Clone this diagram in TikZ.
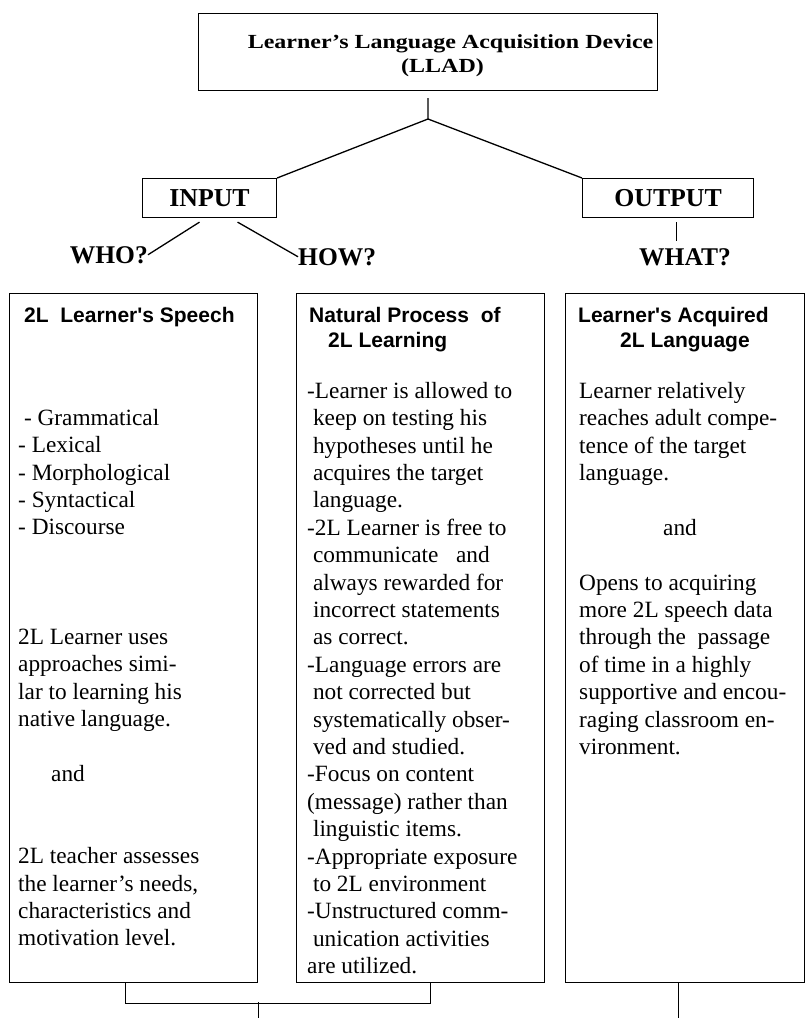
\documentclass[tikz,border=0pt]{standalone}
\usepackage{fontspec}
\setmainfont{Liberation Serif}
\newfontfamily\headfont{Liberation Sans}
\newfontfamily\titlefont{Liberation Serif}[FakeStretch=1.2]
\usetikzlibrary{positioning}

\begin{document}
\begin{tikzpicture}[
    x=1pt, y=-1pt,
    titlebox/.style={rectangle, draw, line width=1.1pt, inner sep=0pt,
        minimum width=459pt, minimum height=77pt, align=center,
        font=\titlefont\bfseries\fontsize{20}{24}\selectfont},
    iobox/.style={rectangle, draw, line width=1.1pt, inner sep=0pt,
        minimum height=39pt, font=\bfseries\fontsize{25.8}{30}\selectfont},
    colbox/.style={rectangle, draw, line width=1.1pt, inner sep=0pt,
        minimum width=248pt, minimum height=689pt},
    asklabel/.style={inner sep=0pt, font=\bfseries\fontsize{25.5}{30}\selectfont},
    headtxt/.style={anchor=north west, inner sep=0pt, align=left,
        font=\headfont\bfseries\fontsize{21}{25}\selectfont},
    bodytxt/.style={anchor=north west, inner sep=0pt, align=left,
        font=\fontsize{23.3}{27.4}\selectfont},
    link/.style={line width=1.3pt},
    footlink/.style={line width=1pt},
]

\useasboundingbox (0,0) rectangle (806,1018);

% ---- top of the tree ----
% empty first row only pushes the two title lines a little lower in the box
\node (llad) [titlebox, anchor=north west] at (198,13)
    {\mbox{}\\[-2pt]\hspace*{45pt}Learner’s Language Acquisition Device\\\hspace*{29pt}(LLAD)};
\node (input)  [iobox, minimum width=134pt, anchor=north west] at (142,178) {INPUT};
\node (output) [iobox, minimum width=171pt, anchor=north west] at (582,178) {OUTPUT};

\node (who)  [asklabel, anchor=base east] at (148,263) {WHO?};
\node (how)  [asklabel, anchor=base west] at (298,265) {HOW?};
\node (what) [asklabel, anchor=base west] at (639,265) {WHAT?};

\coordinate (split) at (428,119);
\draw[link] ([yshift=-7pt]llad.south) -- (split);
\draw[link] (split) -- (input.north east);
\draw[link] (split) -- (output.north west);
\draw[link] ([xshift=-10pt,yshift=-4pt]input.south) -- (who.east);
\draw[link] ([xshift=28pt,yshift=-4pt]input.south) -- (how.west);
\draw[link] ([xshift=8.5pt,yshift=-4pt]output.south) -- ([xshift=8.5pt,yshift=-23pt]output.south);

% ---- the three columns ----
\node (speech)   [colbox, anchor=north west] at (9,293) {};
\node (natural)  [colbox, right=38pt of speech] {};
\node (acquired) [colbox, minimum width=239pt, right=20pt of natural] {};

\node (speechhead)   [headtxt] at (24,307.5) {2L\ \ Learner's Speech};
\node (naturalhead)  [headtxt] at (309,307.5) {Natural Process\ \ of\\\hspace*{19pt}2L Learning};
\node (acquiredhead) [headtxt] at (578,307.5) {Learner's Acquired\\\hspace*{42pt}2L Language};

\node (speechtxt) [bodytxt] at (18,409) {\ - Grammatical\\
    - Lexical\\
    - Morphological\\
    - Syntactical\\
    - Discourse\\
    \mbox{}\\
    \mbox{}\\
    \mbox{}\\
    2L Learner uses\\
    approaches simi-\\
    lar to learning his\\
    native language.\\
    \mbox{}\\
    \hspace*{33pt}and\\
    \mbox{}\\
    \mbox{}\\
    2L teacher assesses\\
    the learner’s needs,\\
    characteristics and\\
    motivation level.};

\node (naturaltxt) [bodytxt] at (307,382) {-Learner is allowed to\\
    \ keep on testing his\\
    \ hypotheses until he\\
    \ acquires the target\\
    \ language.\\
    -2L Learner is free to\\
    \ communicate\ \ \ and\\
    \ always rewarded for\\
    \ incorrect statements\\
    \ as correct.\\
    -Language errors are\\
    \ not corrected but\\
    \ systematically obser-\\
    \ ved and studied.\\
    -Focus on content\\
    (message) rather than\\
    \ linguistic items.\\
    -Appropriate exposure\\
    \ to 2L environment\\
    -Unstructured comm-\\
    \ unication activities\\
    are utilized.};

\node (acquiredtxt) [bodytxt] at (579,382) {Learner relatively\\
    reaches adult compe-\\
    tence of the target\\
    language.\\
    \mbox{}\\
    \hspace*{84pt}and\\
    \mbox{}\\
    Opens to acquiring\\
    more 2L speech data\\
    through the\ \ passage\\
    of time in a highly\\
    supportive and encou-\\
    raging classroom en-\\
    vironment.};

% ---- feet ----
\coordinate (bracket)   at (258,1002);
\coordinate (leftfoot)  at (258,1018);
\coordinate (rightfoot) at (678,1018);
\draw[footlink] ([xshift=-8pt]speech.south) -- ++(0,20) -| ([xshift=10pt]natural.south);
\draw[footlink] (bracket) -- (leftfoot);
\draw[footlink] (acquired.south -| rightfoot) -- (rightfoot);

\end{tikzpicture}
\end{document}
